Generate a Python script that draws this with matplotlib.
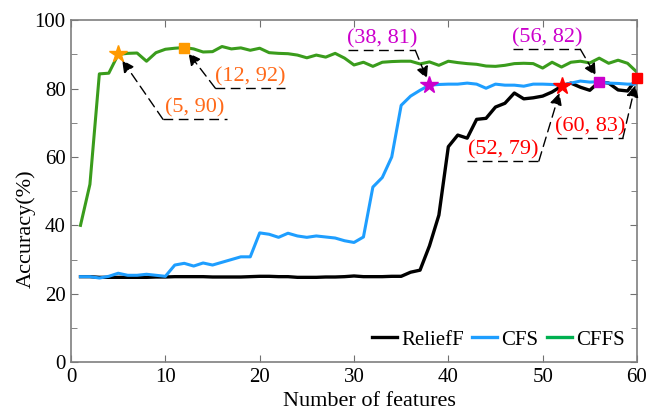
import matplotlib.pyplot as plt
from matplotlib.lines import Line2D
import numpy as np

plt.rcParams['font.family'] = ['Liberation Serif', 'DejaVu Serif']

# number of features 1..60
n_feat = np.arange(1, 61)

relieff = [25, 25, 24.8, 24.8, 24.8, 24.8, 24.8, 24.8, 24.9, 24.9,
           25, 25, 25, 25, 24.9, 24.9, 24.9, 24.9, 25, 25.1,
           25.1, 25, 25, 24.8, 24.8, 24.8, 24.9, 24.9, 25, 25.2,
           25, 25, 25, 25.1, 25.1, 26.3, 26.9, 34, 43, 63,
           66.4, 65.5, 71, 71.3, 74.6, 75.7, 78.7, 77, 77.3, 77.8,
           79, 80.7, 81.6, 80.4, 79.5, 82, 81.6, 79.6, 79.3, 83]

cfs = [25, 25, 24.6, 25.1, 26, 25.4, 25.4, 25.7, 25.4, 25.1,
       28.4, 28.9, 28.1, 29, 28.4, 29.2, 30, 30.8, 30.8, 37.8,
       37.4, 36.5, 37.7, 36.9, 36.5, 36.9, 36.6, 36.3, 35.5, 35,
       36.6, 51.2, 54, 60, 75.1, 77.8, 79.5, 81, 81.2, 81.3,
       81.3, 81.6, 81.3, 80.1, 81.3, 81, 81, 80.7, 81.3, 81.3,
       81.2, 81, 81.6, 82.2, 81.9, 82, 81.6, 81.5, 81.3, 81.3]

cffs = [40, 52, 84.3, 84.5, 90, 90.3, 90.4, 88, 90.5, 91.5,
        91.8, 92, 91.6, 90.7, 90.8, 92.3, 91.6, 91.9, 91.2, 91.8,
        90.5, 90.3, 90.2, 89.8, 89, 89.8, 89.2, 90.3, 88.9, 86.9,
        87.7, 86.5, 87.7, 87.9, 88, 88, 87.2, 87.8, 86.8, 88,
        87.6, 87.3, 87.1, 86.6, 86.5, 86.8, 87.3, 87.4, 87.3, 86,
        87.7, 86.3, 87.7, 88, 87.5, 88.9, 87.4, 88.3, 87.4, 84.8]

# highlighted points
mark_x = [5, 12, 38, 52, 56, 60]
mark_y = [90, 92, 81, 80.7, 82, 83]
mark_lbl = ['(5, 90)', '(12, 92)', '(38, 81)', '(52, 79)', '(56, 82)', '(60, 83)']

fig = plt.figure(figsize=(6.46, 4.12), dpi=100)
ax = fig.add_axes([0.110, 0.121, 0.876, 0.830])

c_black = 'black'
c_blue = '#1E9EFF'
c_green = '#3A9C1C'
ax.plot(n_feat, relieff, color=c_black, lw=2.4)
ax.plot(n_feat, cfs, color=c_blue, lw=2.2)
ax.plot(n_feat, cffs, color=c_green, lw=2.2)

orange_t = '#FF6A1A'
orange_m = '#FF9A00'
mag = '#CC00CC'
red = '#FF0000'
m_style = ['*', 's', '*', '*', 's', 's']
m_col = [orange_m, orange_m, mag, red, mag, red]
t_col = [orange_t, orange_t, mag, red, mag, red]
m_size = [13, 7.5, 13, 13, 7.5, 7.5]
# underline y, x start, x end, arrow start side
under = [(71, 9.75, 16.5, 0), (80.1, 15.3, 22.7, 0), (91.2, 29.4, 36.5, 1),
         (58.8, 42.0, 49.6, 1), (91.5, 46.9, 54.0, 1), (65.5, 51.5, 58.5, 1)]

for i in range(len(mark_x)):
    uy, x1, x2, side = under[i]
    ax.plot([x1, x2], [uy, uy], color='k', lw=1, dashes=(7, 4))
    sx = x1 if side == 0 else x2
    ax.annotate('', xy=(mark_x[i], mark_y[i]), xytext=(sx, uy),
                arrowprops=dict(arrowstyle='-|>', color='k', lw=1,
                                linestyle=(0, (7, 4)), shrinkA=0, shrinkB=5,
                                mutation_scale=18))
    ax.text((x1 + x2) / 2, uy + 0.6, mark_lbl[i], color=t_col[i],
            ha='center', va='bottom', fontsize=16)
    ax.plot(mark_x[i], mark_y[i], marker=m_style[i], color=m_col[i],
            markersize=m_size[i], clip_on=False, zorder=5)

ax.set_xlim(0, 60)
ax.set_ylim(0, 100)
ax.set_xticks(range(0, 61, 10))
ax.set_yticks(range(0, 101, 20))
ax.set_yticks(range(10, 100, 20), minor=True)
ax.tick_params(axis='both', which='both', direction='in', top=True, right=True,
               labelsize=15, color='#707070', pad=4)
ax.tick_params(which='major', length=5)
ax.tick_params(which='minor', length=4)
for s in ax.spines.values():
    s.set_color('#7f7f7f')
    s.set_linewidth(1.2)

ax.set_xlabel('Number of features', fontsize=16)
ax.set_ylabel('Accuracy(%)', fontsize=16)
ax.xaxis.set_label_coords(0.528, -0.088)
ax.yaxis.set_label_coords(-0.062, 0.39)

handles = [Line2D([], [], color=c_black, lw=2.4),
           Line2D([], [], color=c_blue, lw=2.4),
           Line2D([], [], color='#00B050', lw=2.4)]
ax.legend(handles, ['ReliefF', 'CFS', 'CFFS'], loc='lower right', ncol=3,
          frameon=False, fontsize=15, handlelength=1.2, handletextpad=0.2,
          columnspacing=0.4, bbox_to_anchor=(1.0, 0.0), borderaxespad=0.2)

plt.savefig('out.png', dpi=100)
